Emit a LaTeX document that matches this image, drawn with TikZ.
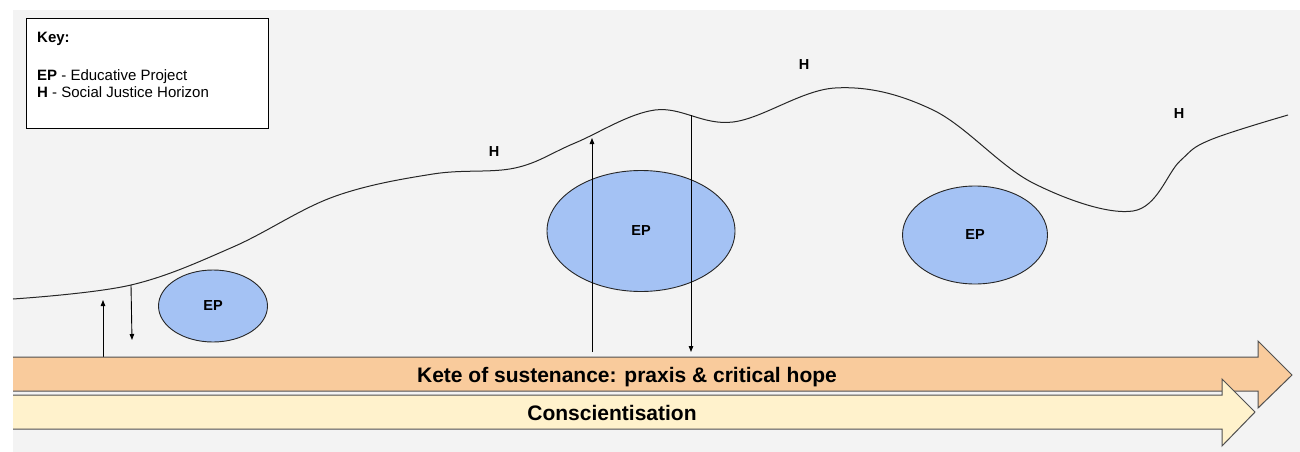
\documentclass[tikz,border=0pt]{standalone}
\usepackage{fontspec}
\setmainfont{Liberation Sans}
\usetikzlibrary{arrows.meta,shapes.geometric}

\definecolor{bggray}{HTML}{F3F3F3}
\definecolor{ketefill}{HTML}{F9CB9C}
\definecolor{conscfill}{HTML}{FFF2CC}
\definecolor{epfill}{HTML}{A4C2F4}
\definecolor{edgegray}{HTML}{505050}

\begin{document}
\begin{tikzpicture}[x=1pt, y=-1pt,
    ep/.style={ellipse, draw=black!85, fill=epfill, line width=0.9pt, inner sep=0pt,
      font=\fontsize{14.5}{16}\selectfont\bfseries},
    hlabel/.style={font=\fontsize{14.5}{16}\selectfont\bfseries},
    keytext/.style={anchor=base west, inner sep=0pt, font=\fontsize{15}{18}\selectfont},
    bar/.style={draw=edgegray, line width=1pt, line join=miter},
    bartext/.style={anchor=base, inner sep=0pt, font=\fontsize{21}{24}\selectfont\bfseries},
    link/.style={line width=0.9pt, -{Triangle[width=4.5pt,length=6pt]}}]

  \useasboundingbox (0,0) rectangle (1300,452);
  \fill[bggray] (13,10) rectangle (1300,452);

  % --- Key ---
  \draw[fill=white, line width=0.9pt] (26,18) rectangle (268,128);
  \node[keytext] (keyhead) at (37,43) {\bfseries Key:};
  \node[keytext] (keyep) at (37,80) {\textbf{EP} - Educative Project};
  \node[keytext] (keyh) at (37,97) {\textbf{H} - Social Justice Horizon};

  % --- Social justice horizon ---
  \draw[line width=1pt, black!85] plot[smooth, tension=0.6] coordinates {
    (13,299) (131,285) (233,247) (333,197) (433,174) (515,168) (575,143)
    (655,110) (733,122) (835,88) (933,110) (1033,183) (1133,211) (1180,161)
    (1210,140) (1288,115)};
  \node[hlabel] (hone) at (494,152) {H};
  \node[hlabel] (htwo) at (804,65) {H};
  \node[hlabel] (hthree) at (1179,114) {H};

  % --- Educative projects ---
  \node[ep, minimum width=109pt, minimum height=72pt] (epone) at (213,306) {EP};
  \node[ep, minimum width=188pt, minimum height=121pt] (eptwo) at (641,231) {EP};
  \node[ep, minimum width=145pt, minimum height=98pt] (epthree) at (975,235) {EP};

  % --- Movement between kete and horizon ---
  \coordinate (upfootA) at (103,357);
  \coordinate (uptipA) at (103,300);
  \coordinate (downfootA) at (131,285);
  \coordinate (downtipA) at (132,340);
  \coordinate (upfootB) at (592,352);
  \coordinate (uptipB) at (592,138);
  \coordinate (downfootB) at (691,115);
  \coordinate (downtipB) at (691,352);
  \draw[link] (upfootA) -- (uptipA);
  \draw[link] (downfootA) -- (downtipA);
  \draw[link] (upfootB) -- (uptipB);
  \draw[link] (downfootB) -- (downtipB);

  % --- Kete of sustenance ---
  \path[bar, fill=ketefill] (13,357) -- (1258,357) -- (1258,341) -- (1292,375)
    -- (1258,408) -- (1258,391) -- (13,391);
  \node[bartext] (kete) at (627,382) {Kete of sustenance: praxis \& critical hope};

  % --- Conscientisation ---
  \path[bar, fill=conscfill] (13,395) -- (1222,395) -- (1222,379) -- (1255,412)
    -- (1222,446) -- (1222,429) -- (13,429);
  \node[bartext] (consc) at (612,420) {Conscientisation};

\end{tikzpicture}
\end{document}
